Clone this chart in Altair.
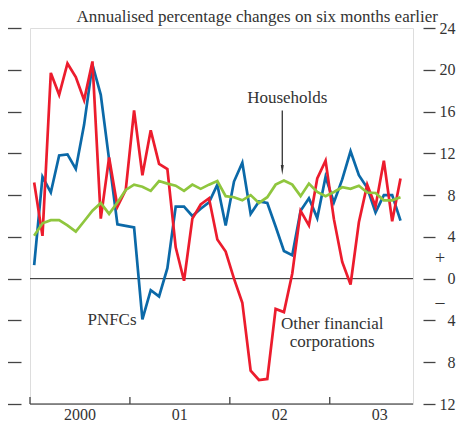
import altair as alt
import pandas as pd

# Monthly observations, Jan 2000 .. Sep 2003 (annualised % change on six months earlier)
pnfcs = [1.3, 9.75, 8.25, 11.8, 11.9, 10.5, 14.75, 20.5, 17.6, 11.4,
         5.2, 5.05, 4.9, -3.9, -1.1, -1.7, 1.0, 6.9, 6.9, 6.0,
         6.7, 7.3, 9.0, 5.1, 9.3, 11.1, 6.2, 7.4, 7.25, 5.0,
         2.65, 2.25, 6.5, 7.7, 5.8, 9.75, 7.3, 9.5, 12.2, 9.9,
         8.7, 6.35, 8.0, 8.0, 5.55]
ofcs = [9.2, 4.1, 19.7, 17.6, 20.6, 19.3, 17.1, 20.8, 5.75, 11.6,
        6.9, 8.5, 16.1, 9.9, 14.2, 11.0, 10.5, 3.0, -0.2, 5.75,
        7.1, 7.7, 3.75, 2.6, 0.0, -2.3, -8.8, -9.7, -9.6, -2.9,
        -3.2, 0.5, 6.5, 5.1, 9.6, 11.3, 5.7, 1.6, -0.56, 5.4,
        9.0, 6.9, 11.3, 5.5, 9.6]
households = [4.1, 5.3, 5.6, 5.6, 5.1, 4.5, 5.5, 6.5, 7.25, 6.2,
              7.3, 8.5, 9.0, 8.8, 8.4, 9.35, 9.1, 8.9, 8.4, 9.0,
              8.6, 9.0, 9.35, 7.9, 7.8, 7.5, 8.0, 7.25, 7.8, 9.0,
              9.4, 9.0, 7.9, 9.1, 8.3, 7.9, 8.3, 8.75, 8.6, 8.9,
              8.25, 8.2, 7.5, 7.5, 7.8]

year_ticks = [0, 12, 24, 36]
year_label_pos = [6, 18, 30, 42]
year_labels = ["2000", "01", "02", "03"]
y_ticks = [-12, -8, -4, 0, 4, 8, 12, 16, 20, 24]

FONT = "Liberation Serif"
TXT = "#333333"
AX = "#444444"
C_BLUE = "#0B69A8"
C_RED = "#EC1C2D"
C_GREEN = "#8FC63E"

def series_df(vals):
    return pd.DataFrame({"m": [i + 0.5 for i in range(len(vals))], "v": vals})

xs = alt.Scale(domain=[0, 46], nice=False, zero=False)
ys = alt.Scale(domain=[-12, 24], nice=False, zero=False)

left_axis = alt.Axis(orient="left", values=y_ticks, labels=False, domain=False, ticks=True,
                     tickSize=14, tickColor=AX, tickWidth=1.3, offset=9, grid=False,
                     title=None)
right_axis = alt.Axis(orient="right", values=y_ticks, labelExpr="'' + abs(datum.value)",
                      domain=False, ticks=True, tickSize=12, tickColor=AX, tickWidth=1.3,
                      offset=10, labelAlign="right", labelPadding=20, labelFont=FONT,
                      labelFontSize=16, labelColor=TXT, grid=False, title=None)

X = lambda f="m:Q": alt.X(f, scale=xs, axis=None)

blue = alt.Chart(series_df(pnfcs)).mark_line(color=C_BLUE, strokeWidth=2.7).encode(
    x=X(), y=alt.Y("v:Q", scale=ys, axis=left_axis))
red = alt.Chart(series_df(ofcs)).mark_line(color=C_RED, strokeWidth=2.7).encode(
    x=X(), y=alt.Y("v:Q", scale=ys, axis=right_axis))
green = alt.Chart(series_df(households)).mark_line(color=C_GREEN, strokeWidth=2.7).encode(
    x=X(), y=alt.Y("v:Q", scale=ys, axis=None))

hlines = alt.Chart(pd.DataFrame({"v": [0, -12], "c": ["z", "b"]})).mark_rule(
    color="#222222", strokeWidth=1).encode(y=alt.Y("v:Q", scale=ys, axis=None))

yt = pd.DataFrame({"m": year_ticks, "y0": [-12] * 4, "y1": [-11.33] * 4})
yticks = alt.Chart(yt).mark_rule(color=AX, strokeWidth=1.3).encode(
    x=X(), y=alt.Y("y0:Q", scale=ys, axis=None), y2="y1:Q")

ylab = pd.DataFrame({"m": year_label_pos, "v": [-12] * 4, "t": year_labels})
year_text = alt.Chart(ylab).mark_text(font=FONT, fontSize=16, color=TXT, align="center",
                                      baseline="top", dy=3).encode(
    x=X(), y=alt.Y("v:Q", scale=ys, axis=None), text="t:N")

arrow_df = pd.DataFrame({"m": [30.3], "y0": [16.1], "y1": [10.6], "tip": [10.4]})
arrow_line = alt.Chart(arrow_df).mark_rule(color="#333333", strokeWidth=1.3).encode(
    x=X(), y=alt.Y("y0:Q", scale=ys, axis=None), y2="y1:Q")
arrow_head = alt.Chart(arrow_df).mark_point(
    shape="M-0.3,-1L0.3,-1L0,1Z", size=100, filled=True, color="#333333", opacity=1
).encode(x=X(), y=alt.Y("tip:Q", scale=ys, axis=None))

center_lbl = pd.DataFrame({
    "m": [30.9, 36.3, 36.3],
    "v": [16.8, -4.8, -6.5],
    "t": ["Households", "Other financial", "corporations"],
})
right_lbl = pd.DataFrame({"m": [12.8], "v": [-4.4], "t": ["PNFCs"]})

txt_c = alt.Chart(center_lbl).mark_text(font=FONT, fontSize=17, color=TXT, align="center",
                                        baseline="alphabetic").encode(
    x=X(), y=alt.Y("v:Q", scale=ys, axis=None), text="t:N")
txt_r = alt.Chart(right_lbl).mark_text(font=FONT, fontSize=17, color=TXT, align="right",
                                       baseline="alphabetic").encode(
    x=X(), y=alt.Y("v:Q", scale=ys, axis=None), text="t:N")

sign_df = pd.DataFrame({"v": [1.9, -2.3], "t": ["+", "\u2013"]})
signs = alt.Chart(sign_df).mark_text(font=FONT, fontSize=18, color=TXT, align="center",
                                     baseline="middle").encode(
    x=alt.value(410), y=alt.Y("v:Q", scale=ys, axis=None), text="t:N")

title = alt.Chart(pd.DataFrame({"t": ["Annualised percentage changes on six months earlier"]})).mark_text(
    font=FONT, fontSize=17, color=TXT, align="right", baseline="alphabetic"
).encode(x=alt.value(408), y=alt.value(-6), text="t:N")

chart = alt.layer(
    hlines, yticks, year_text, blue, red, green, arrow_line, arrow_head,
    txt_c, txt_r, signs, title
).resolve_axis(y="independent").properties(
    width=383, height=376,
    autosize=alt.AutoSizeParams(type="none"),
    padding={"left": 22, "top": 20, "right": 44, "bottom": 20},
).configure_view(stroke=None).configure(background="white")

chart.save("out.html", embed_options={"renderer": "svg", "actions": False})
